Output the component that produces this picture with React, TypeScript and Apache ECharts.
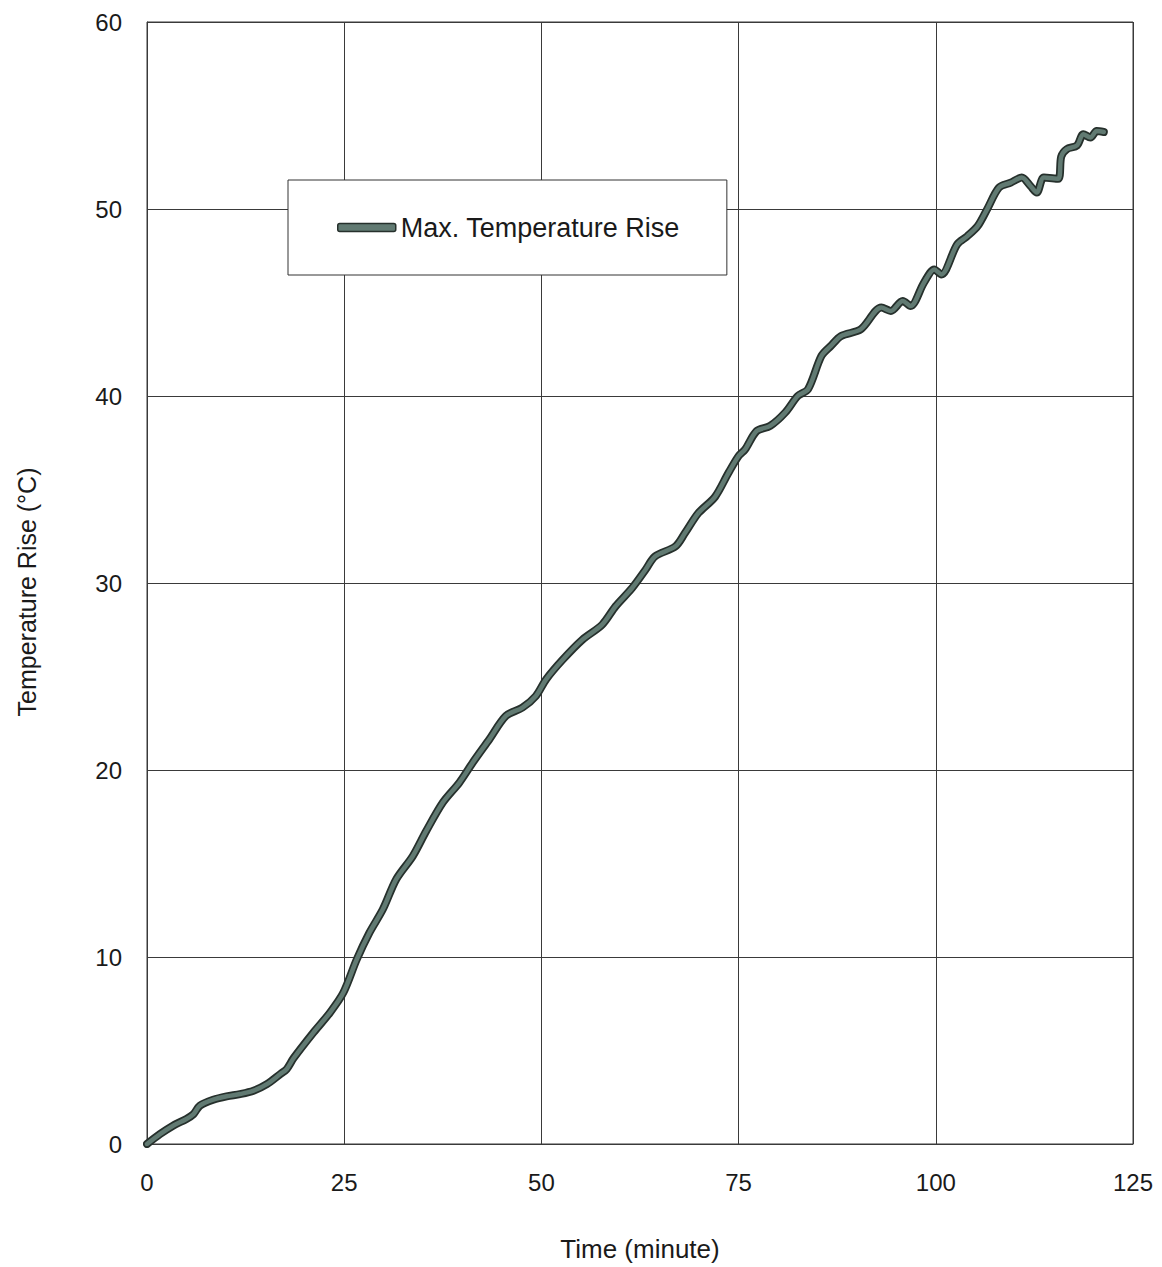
import React, { useEffect, useRef } from "react";
import * as echarts from "echarts";

// Elapsed time (minutes) and measured maximum temperature rise (°C)
const timeMin: number[] = [
  0, 1.65, 3.3, 5.0, 5.9, 6.7, 8.4, 10.1, 11.8, 13.5, 15.2, 16.9, 17.7, 18.6,
  21.1, 23.2, 24.9, 26.6, 28.2, 29.9, 31.6, 33.7, 35.4, 37.5, 39.6, 41.3, 43.4,
  45.5, 47.6, 49.3, 50.6, 52.7, 55.2, 57.7, 59.4, 61.5, 63.2, 64.4, 67.0, 68.2,
  69.9, 72.0, 73.7, 75.0, 75.8, 77.3, 79.0, 80.9, 82.5, 83.8, 85.5, 86.7, 88.0,
  90.5, 93.1, 94.3, 95.8, 96.8, 98.5, 99.8, 100.7, 102.7, 104.0, 105.3, 106.5,
  108.0, 109.5, 110.9, 112.0, 112.8, 113.7, 115.5, 115.9, 116.6, 117.9, 118.7,
  119.6, 120.4, 121.3,
];
const tempRise: number[] = [
  0, 0.53, 0.98, 1.34, 1.6, 2.05, 2.37, 2.55, 2.67, 2.85, 3.2, 3.74, 4.0, 4.6,
  5.96, 7.03, 8.1, 9.88, 11.3, 12.55, 14.16, 15.4, 16.74, 18.26, 19.33, 20.4,
  21.64, 22.89, 23.34, 23.96, 24.85, 25.9, 26.97, 27.77, 28.75, 29.73, 30.71,
  31.42, 31.96, 32.67, 33.74, 34.6, 35.88, 36.79, 37.13, 38.13, 38.4, 39.11,
  40.0, 40.36, 42.14, 42.68, 43.21, 43.57, 44.73, 44.55, 45.08, 44.81, 46.06,
  46.77, 46.5, 48.1, 48.55, 49.08, 49.98, 51.14, 51.41, 51.68, 51.23, 50.88,
  51.68, 51.62, 52.8, 53.2, 53.4, 54.0, 53.82, 54.17, 54.12,
];

const seriesName = "Max. Temperature Rise";
const xTitle = "Time (minute)";
const yTitle = "Temperature Rise (°C)";

const FONT = "'Liberation Sans', Arial, Helvetica, sans-serif";
const LINE_FILL = "#617a72";
const LINE_EDGE = "#26302c";
const GRID = "#3a3a3a";

export default function App() {
  const ref = useRef<HTMLDivElement>(null);

  useEffect(() => {
    if (!ref.current) return;
    const chart = echarts.init(ref.current, undefined, { renderer: "svg" });
    const points = timeMin.map((t, i) => [t, tempRise[i]]);

    chart.setOption({
      animation: false,
      backgroundColor: "#ffffff",
      textStyle: { fontFamily: FONT },
      grid: {
        left: 147,
        top: 22,
        right: 29,
        bottom: 122,
        show: true,
        borderColor: GRID,
        borderWidth: 1,
        backgroundColor: "transparent",
      },
      legend: {
        left: 288,
        top: 180,
        padding: [34, 47, 34, 49],
        backgroundColor: "#ffffff",
        borderColor: "#333",
        borderWidth: 1,
        itemWidth: 58,
        itemHeight: 8,
        textStyle: { fontFamily: FONT, fontSize: 27, color: "#1a1a1a" },
        data: [
          {
            name: seriesName,
            icon: "roundRect",
            itemStyle: { color: LINE_FILL, borderColor: LINE_EDGE, borderWidth: 1.5 },
          },
        ],
      },
      xAxis: {
        type: "value",
        min: 0,
        max: 125,
        interval: 25,
        name: xTitle,
        nameLocation: "middle",
        nameGap: 92,
        nameTextStyle: { fontFamily: FONT, fontSize: 26, color: "#1a1a1a" },
        axisLine: { show: true, lineStyle: { color: GRID, width: 1 } },
        axisTick: { show: false },
        axisLabel: { margin: 26, fontFamily: FONT, fontSize: 24, color: "#1a1a1a" },
        splitLine: { show: true, lineStyle: { color: GRID, width: 1 } },
      },
      yAxis: {
        type: "value",
        min: 0,
        max: 60,
        interval: 10,
        name: yTitle,
        nameLocation: "middle",
        nameGap: 108,
        nameTextStyle: { fontFamily: FONT, fontSize: 25, color: "#1a1a1a", padding: [0, 18, 0, 0] },
        axisLine: { show: true, lineStyle: { color: GRID, width: 1 } },
        axisTick: { show: false },
        axisLabel: { margin: 25, fontFamily: FONT, fontSize: 24, color: "#1a1a1a" },
        splitLine: { show: true, lineStyle: { color: GRID, width: 1 } },
      },
      series: [
        {
          name: "__edge",
          type: "line",
          data: points,
          showSymbol: false,
          smooth: 0.3,
          silent: true,
          lineStyle: { color: LINE_EDGE, width: 8, cap: "round", join: "round" },
          z: 2,
        },
        {
          name: seriesName,
          type: "line",
          data: points,
          showSymbol: false,
          smooth: 0.3,
          color: LINE_FILL,
          lineStyle: { color: LINE_FILL, width: 4.5, cap: "round", join: "round" },
          z: 3,
        },
      ],
    });

    return () => chart.dispose();
  }, []);

  return (
    <div
      ref={ref}
      style={{ position: "absolute", left: 0, top: 0, width: 1162, height: 1267 }}
    />
  );
}
